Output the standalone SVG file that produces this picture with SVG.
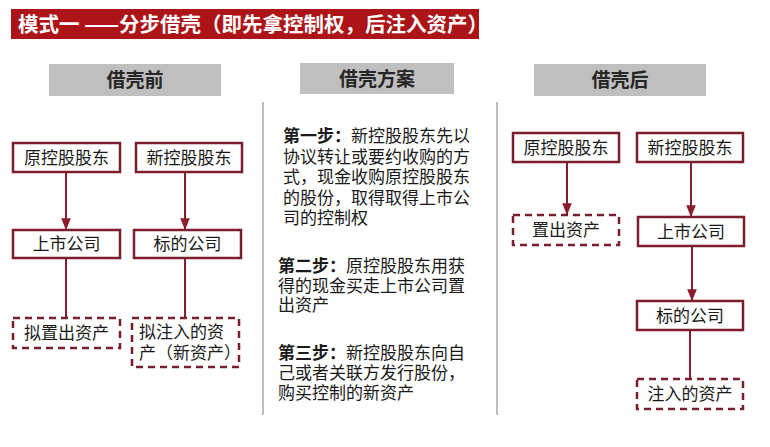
<svg xmlns="http://www.w3.org/2000/svg" width="770" height="447" viewBox="0 0 770 447">
<defs>
<style>
.t{font-family:"Noto Sans CJK SC","Noto Sans",sans-serif;}
.title{font-size:20.5px;font-weight:bold;fill:#ffffff;}
.hdr{fill:#bfbfbf;}
.hdrt{font-size:19px;font-weight:bold;fill:#262626;text-anchor:middle;}
.box{fill:#ffffff;stroke:#7a1e2b;stroke-width:2.5;}
.dash{fill:#ffffff;stroke:#7a1e2b;stroke-width:2.5;stroke-dasharray:7,5;}
.nt{font-size:17px;fill:#1a1a1a;text-anchor:middle;}
.body{font-size:17px;fill:#1a1a1a;}
.b{font-weight:bold;}
.conn{stroke:#8b1c2c;stroke-width:2;fill:none;}
.div{stroke:#bdbdbd;stroke-width:2;}
</style>
<marker id="ah" viewBox="0 0 10 10" refX="9" refY="5" markerWidth="6" markerHeight="6" orient="auto">
<path d="M0,1 L10,5 L0,9 z" fill="#8b1c2c"/>
</marker>
</defs>
<rect width="770" height="447" fill="#ffffff"/>
<g id="title">
<rect x="11" y="9" width="468" height="30" fill="#ad1418"/>
<text class="t title" x="18" y="31.5">模式一 ——分步借壳（即先拿控制权，后注入资产）</text>
</g>
<g id="headers">
<rect class="hdr" x="49" y="64" width="172" height="32"/>
<text class="t hdrt" x="135" y="87">借壳前</text>
<rect class="hdr" x="300" y="63" width="154" height="31"/>
<text class="t hdrt" x="377" y="86">借壳方案</text>
<rect class="hdr" x="534" y="64" width="172" height="32"/>
<text class="t hdrt" x="620" y="87">借壳后</text>
</g>
<g id="dividers">
<line class="div" x1="263" y1="102" x2="263" y2="415"/>
<line class="div" x1="497" y1="102" x2="497" y2="415"/>
</g>
<g id="connectors">
<line class="conn" x1="66" y1="172" x2="66" y2="229" marker-end="url(#ah)"/>
<line class="conn" x1="185" y1="172" x2="185" y2="229" marker-end="url(#ah)"/>
<line class="conn" x1="66" y1="258" x2="66" y2="318"/>
<line class="conn" x1="185" y1="258" x2="185" y2="318"/>
<line class="conn" x1="567" y1="162" x2="567" y2="214" marker-end="url(#ah)"/>
<line class="conn" x1="691" y1="162" x2="691" y2="216" marker-end="url(#ah)"/>
<line class="conn" x1="692" y1="246" x2="692" y2="300" marker-end="url(#ah)"/>
<line class="conn" x1="690" y1="330" x2="690" y2="379"/>
</g>
<g id="L-yuan">
<rect class="box" x="13" y="143" width="107" height="29"/>
<text class="t nt" x="66.5" y="164">原控股股东</text>
</g>
<g id="L-xin">
<rect class="box" x="136" y="143" width="106" height="29"/>
<text class="t nt" x="189" y="164">新控股股东</text>
</g>
<g id="L-shangshi">
<rect class="box" x="13" y="230" width="107" height="28"/>
<text class="t nt" x="66.5" y="250">上市公司</text>
</g>
<g id="L-biaodi">
<rect class="box" x="134" y="230" width="107" height="28"/>
<text class="t nt" x="187.5" y="250">标的公司</text>
</g>
<g id="L-nizhichu">
<rect class="dash" x="13" y="318" width="107" height="30"/>
<text class="t nt" x="66.5" y="339">拟置出资产</text>
</g>
<g id="L-nizhuru">
<rect class="dash" x="132" y="318" width="107" height="49"/>
<text class="t body" x="139" y="338">拟注入的资</text>
<text class="t body" x="139" y="359">产（新资产）</text>
</g>
<g id="M-steps">
<text class="t body" x="283" y="142"><tspan class="b">第一步：</tspan>新控股股东先以</text>
<text class="t body" x="283" y="162.5">协议转让或要约收购的方</text>
<text class="t body" x="283" y="183">式，现金收购原控股股东</text>
<text class="t body" x="283" y="203.5">的股份，取得取得上市公</text>
<text class="t body" x="283" y="224">司的控制权</text>
<text class="t body" x="278" y="272"><tspan class="b">第二步：</tspan>原控股股东用获</text>
<text class="t body" x="278" y="291.5">得的现金买走上市公司置</text>
<text class="t body" x="278" y="311">出资产</text>
<text class="t body" x="278" y="359"><tspan class="b">第三步：</tspan>新控股股东向自</text>
<text class="t body" x="278" y="379">己或者关联方发行股份，</text>
<text class="t body" x="278" y="399">购买控制的新资产</text>
</g>
<g id="R-yuan">
<rect class="box" x="513" y="133" width="106" height="29"/>
<text class="t nt" x="566" y="154">原控股股东</text>
</g>
<g id="R-xin">
<rect class="box" x="637" y="133" width="106" height="29"/>
<text class="t nt" x="690" y="154">新控股股东</text>
</g>
<g id="R-zhichu">
<rect class="dash" x="513" y="215" width="106" height="30"/>
<text class="t nt" x="566" y="236">置出资产</text>
</g>
<g id="R-shangshi">
<rect class="box" x="638" y="217" width="106" height="29"/>
<text class="t nt" x="691" y="238">上市公司</text>
</g>
<g id="R-biaodi">
<rect class="box" x="637" y="301" width="106" height="29"/>
<text class="t nt" x="690" y="322">标的公司</text>
</g>
<g id="R-zhuru">
<rect class="dash" x="637" y="379" width="106" height="30"/>
<text class="t nt" x="690" y="400">注入的资产</text>
</g>
</svg>
